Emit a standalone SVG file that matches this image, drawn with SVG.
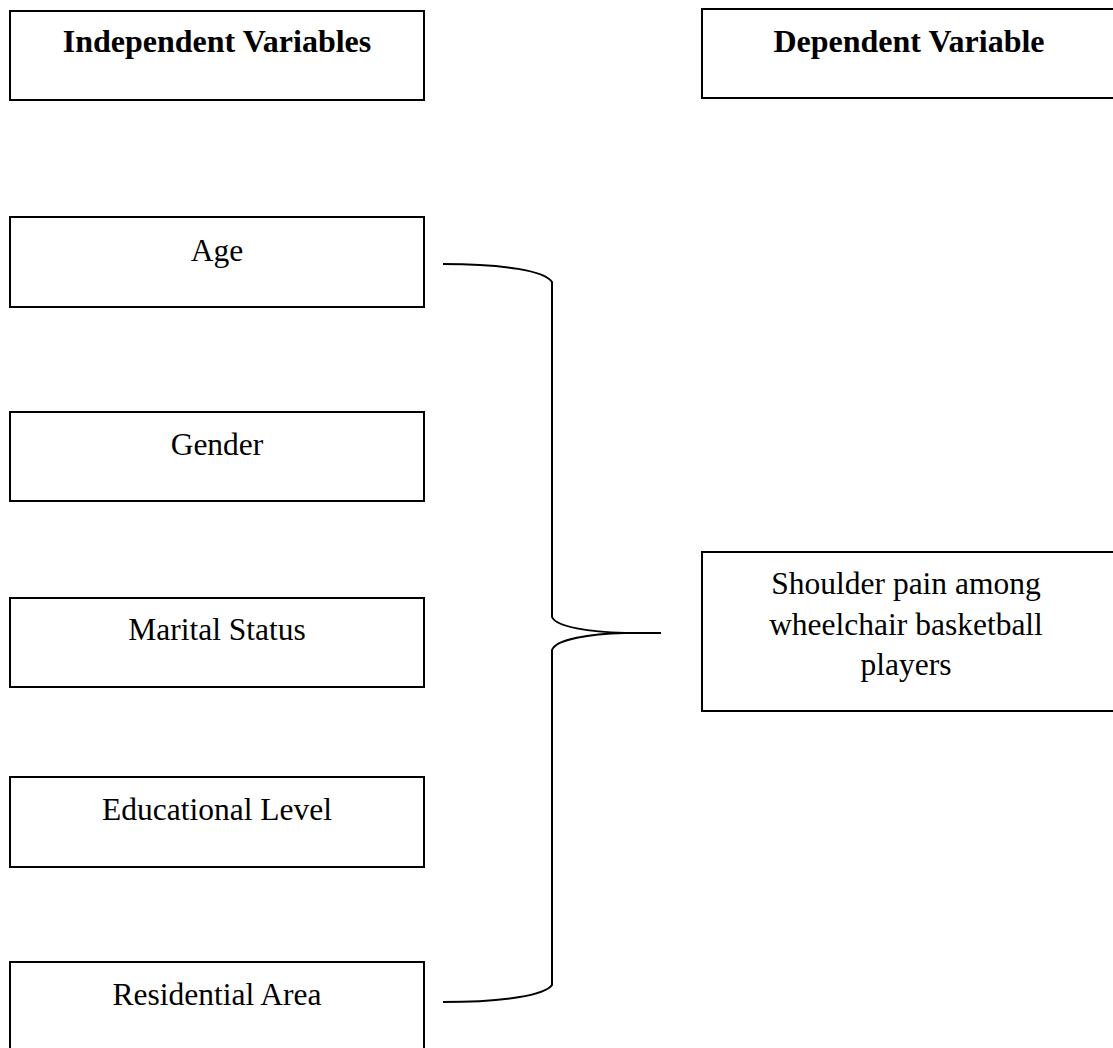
<svg xmlns="http://www.w3.org/2000/svg" width="1113" height="1048" viewBox="0 0 1113 1048">
<style>
.box{fill:#fff;stroke:#000;stroke-width:2}
.t{font-family:"Liberation Serif","Times New Roman",serif;font-size:31.5px;fill:#000;text-anchor:middle}
.b{font-weight:bold;font-size:32px}
.c{fill:none;stroke:#000;stroke-width:2}
</style>
<rect width="1113" height="1048" fill="#fff"/>
<g id="independent-header"><rect class="box" x="10" y="11" width="414" height="89"/><text class="t b" x="217" y="52">Independent Variables</text></g>
<g id="dependent-header"><rect class="box" x="702" y="9" width="414" height="89"/><text class="t b" x="909" y="52">Dependent Variable</text></g>
<g id="age"><rect class="box" x="10" y="217" width="414" height="90"/><text class="t" x="217" y="261">Age</text></g>
<g id="gender"><rect class="box" x="10" y="412" width="414" height="89"/><text class="t" x="217" y="455">Gender</text></g>
<g id="marital"><rect class="box" x="10" y="598" width="414" height="89"/><text class="t" x="217" y="640">Marital Status</text></g>
<g id="education"><rect class="box" x="10" y="777" width="414" height="90"/><text class="t" x="217" y="820">Educational Level</text></g>
<g id="residential"><rect class="box" x="10" y="962" width="414" height="90"/><text class="t" x="217" y="1005">Residential Area</text></g>
<g id="shoulder"><rect class="box" x="702" y="552" width="414" height="159"/><text class="t" x="906" y="594">Shoulder pain among</text><text class="t" x="906" y="635">wheelchair basketball</text><text class="t" x="906" y="675">players</text></g>
<g id="connectors">
<path class="c" d="M443,264 C505,264 545,271 552,282 L552,617 C556,627 590,632 625,633 L661,633 M625,633 C590,634 556,639 552,650 L552,985 C545,995 505,1002 443,1002"/>
</g>
</svg>
